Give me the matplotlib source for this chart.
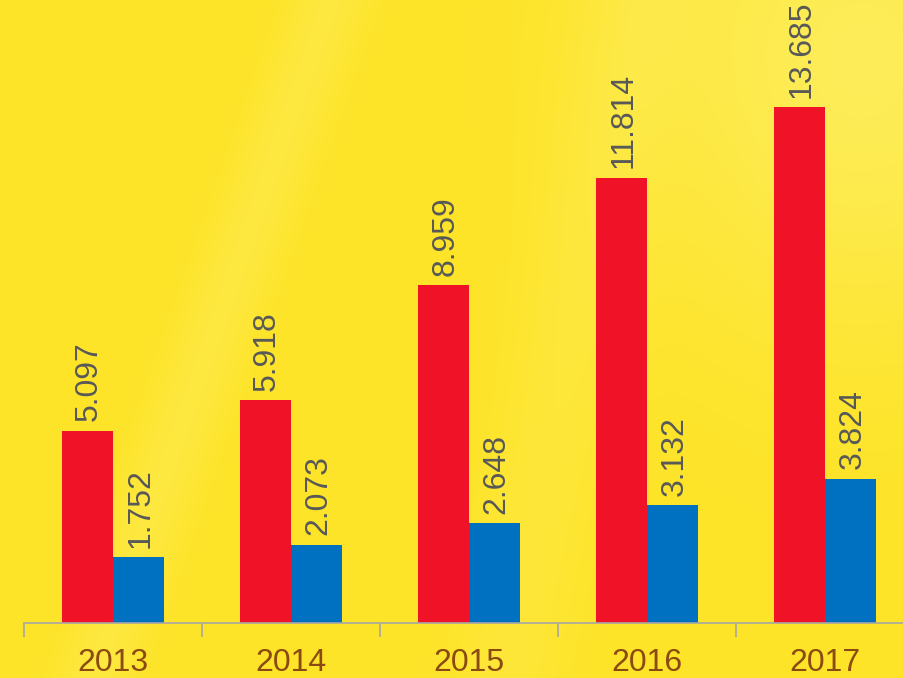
import numpy as np
import matplotlib.pyplot as plt

years = ['2013', '2014', '2015', '2016', '2017']
red_vals = [5.097, 5.918, 8.959, 11.814, 13.685]
blue_vals = [1.752, 2.073, 2.648, 3.132, 3.824]

plt.rcParams['font.family'] = ['Liberation Sans', 'DejaVu Sans']

W, H = 904, 678
fig = plt.figure(figsize=(W / 100, H / 100), dpi=100)

# yellow background with soft light streaks
yy, xx = np.mgrid[0:H, 0:W]
base = np.array([253, 228, 40]) / 255.0
light = np.array([254, 242, 120]) / 255.0
t = np.zeros((H, W))
d1 = (xx - 330 + 0.35 * yy) / 40.0
t += 0.3 * np.exp(-d1 ** 2)
d2 = ((xx - 860) / 220.0) ** 2 + ((yy - 60) / 260.0) ** 2
t += 0.6 * np.exp(-d2)
d3 = (xx - 640 + 0.2 * yy) / 60.0
t += 0.2 * np.exp(-d3 ** 2)
t = np.clip(t, 0, 1)[..., None]
bg = base * (1 - t) + light * t
fig.figimage(bg, xo=0, yo=0, origin='upper', zorder=-5)

ax = fig.add_axes([24 / W, 55 / H, 890 / W, 603 / H])
ax.patch.set_alpha(0)
ax.set_zorder(1)

x = np.arange(len(years))
bw = 0.287
rb = ax.bar(x - bw / 2, red_vals, bw, color='#F01226', zorder=2)
bb = ax.bar(x + bw / 2, blue_vals, bw, color='#0070C0', zorder=2)

for bars, vals in ((rb, red_vals), (bb, blue_vals)):
    for b, v in zip(bars, vals):
        ax.text(b.get_x() + b.get_width() / 2 + 0.01, v + 0.25, f'{v:.3f}',
                rotation=90, ha='center', va='bottom', fontsize=23,
                color='#585858')

ax.set_xlim(-0.5, 4.5)
ax.set_ylim(0, 16)
ax.set_yticks([])
for s in ('top', 'right', 'left'):
    ax.spines[s].set_visible(False)
ax.spines['bottom'].set_color('#A6A6A6')
ax.spines['bottom'].set_linewidth(1.2)

ax.set_xticks(np.arange(-0.5, 5, 1.0))
ax.set_xticklabels([])
ax.tick_params(axis='x', which='major', length=10, width=1.2, color='#A6A6A6')
ax.set_xticks(x, minor=True)
ax.set_xticklabels(years, minor=True)
ax.tick_params(axis='x', which='minor', length=0, pad=18, labelsize=23,
               labelcolor='#8A4A12')

fig.savefig('out.png', dpi=100)
